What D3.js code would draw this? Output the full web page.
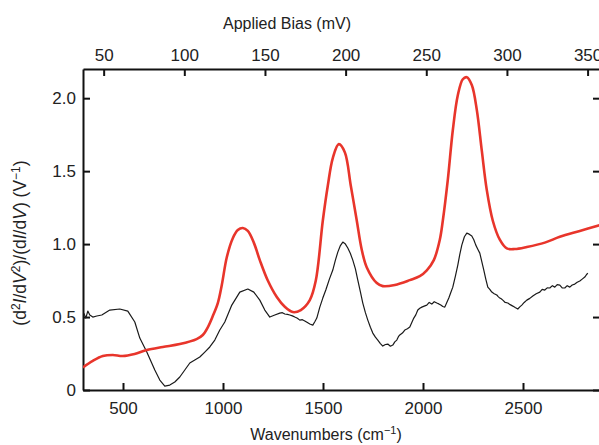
<!DOCTYPE html>
<html>
<head>
<meta charset="utf-8">
<script src="https://cdn.jsdelivr.net/npm/d3@7"></script>
<style>
  html, body { margin: 0; padding: 0; background: #fff; }
  svg { display: block; }
  text { font-family: "Liberation Sans", Arial, Helvetica, sans-serif; fill: #222; }
</style>
</head>
<body>
<svg id="chart" width="599" height="445"></svg>
<script>
// ---- data ----
const redWavenumber = [300,349,399,449,498,558,619,699,784,868,899,924,949,974,994,1019,1049,1074,1099,1124,1154,1184,1224,1269,1309,1349,1389,1434,1464,1499,1524,1549,1579,1609,1639,1669,1694,1719,1769,1799,1859,1934,1984,2019,2054,2084,2099,2124,2149,2174,2199,2219,2244,2269,2294,2319,2349,2384,2419,2459,2519,2609,2684,2784,2885];
const redValue = [0.155,0.20,0.233,0.24,0.233,0.247,0.274,0.295,0.315,0.349,0.377,0.43,0.507,0.596,0.72,0.91,1.04,1.096,1.11,1.09,1.01,0.89,0.75,0.637,0.57,0.534,0.548,0.616,0.75,1.16,1.40,1.59,1.685,1.63,1.40,1.16,0.96,0.84,0.733,0.712,0.72,0.753,0.78,0.82,0.89,1.03,1.16,1.44,1.78,2.02,2.13,2.144,2.09,1.92,1.64,1.37,1.16,1.03,0.97,0.966,0.98,1.01,1.05,1.09,1.13];

const blackWavenumber = [304,314,324,334,349,369,394,434,484,524,559,584,619,659,684,709,734,759,784,809,834,859,884,909,934,959,984,1009,1044,1084,1124,1154,1184,1209,1234,1259,1284,1297,1309,1322,1334,1347,1359,1372,1384,1397,1409,1422,1434,1449,1459,1469,1484,1499,1514,1532,1549,1562,1574,1587,1599,1612,1624,1637,1649,1662,1674,1687,1699,1712,1724,1737,1749,1762,1774,1787,1799,1812,1824,1837,1849,1859,1869,1877,1884,1897,1909,1922,1934,1944,1954,1964,1974,1984,1994,2006,2019,2031,2044,2056,2069,2079,2089,2099,2109,2119,2129,2139,2149,2162,2174,2184,2194,2207,2219,2231,2244,2254,2264,2274,2284,2294,2304,2314,2324,2334,2344,2356,2369,2376,2384,2391,2399,2411,2424,2436,2449,2461,2474,2484,2494,2506,2519,2534,2549,2566,2584,2596,2609,2621,2634,2647,2659,2671,2684,2696,2709,2721,2734,2746,2759,2771,2784,2796,2809,2817,2824];
const blackValue = [0.527,0.493,0.541,0.514,0.500,0.507,0.514,0.548,0.555,0.541,0.466,0.356,0.260,0.137,0.068,0.027,0.034,0.055,0.089,0.137,0.185,0.205,0.226,0.260,0.295,0.342,0.411,0.466,0.582,0.671,0.692,0.671,0.616,0.548,0.500,0.514,0.527,0.530,0.521,0.518,0.514,0.508,0.500,0.492,0.479,0.482,0.473,0.462,0.452,0.445,0.468,0.493,0.568,0.630,0.685,0.760,0.822,0.890,0.945,0.990,1.014,1.000,0.973,0.935,0.890,0.830,0.753,0.672,0.596,0.530,0.479,0.430,0.390,0.362,0.342,0.318,0.301,0.312,0.315,0.300,0.308,0.330,0.342,0.365,0.377,0.390,0.411,0.420,0.432,0.462,0.493,0.515,0.548,0.560,0.568,0.575,0.582,0.600,0.589,0.605,0.596,0.590,0.582,0.572,0.568,0.600,0.630,0.668,0.705,0.780,0.856,0.930,0.993,1.050,1.075,1.068,1.055,1.030,0.993,0.965,0.938,0.880,0.822,0.760,0.705,0.690,0.671,0.660,0.651,0.640,0.630,0.625,0.616,0.600,0.596,0.585,0.575,0.565,0.555,0.570,0.582,0.600,0.616,0.628,0.644,0.660,0.671,0.690,0.685,0.700,0.699,0.715,0.705,0.722,0.719,0.700,0.699,0.715,0.705,0.720,0.726,0.738,0.747,0.760,0.774,0.790,0.801];

const xTicks = [500,1000,1500,2000,2500];
const topTicks = [50,100,150,200,250,300,350];
const yTicks = [0,0.5,1.0,1.5,2.0];
const yTickLabels = ["0","0.5","1.0","1.5","2.0"];
const cmPerMeV = 8.0655;

// ---- layout ----
const L = 83, R = 600, T = 69, B = 390;
const svg = d3.select("#chart");

const x = d3.scaleLinear().domain([300, 2885]).range([L, R]);
const xTop = d3.scaleLinear().domain([300 / cmPerMeV, 2885 / cmPerMeV]).range([L, R]);
const y = d3.scaleLinear().domain([0, 2.2]).range([B, T]);

const fs = "16px";
const tfs = "17px";
const gB = svg.append("g").attr("transform", `translate(0,${B})`)
  .call(d3.axisBottom(x).tickValues(xTicks).tickFormat(d3.format("d")).tickSizeInner(-7).tickSizeOuter(0).tickPadding(12));
const gT = svg.append("g").attr("transform", `translate(0,${T})`)
  .call(d3.axisTop(xTop).tickValues(topTicks).tickFormat(d3.format("d")).tickSizeInner(-7).tickSizeOuter(0).tickPadding(8));
const gL = svg.append("g").attr("transform", `translate(${L},0)`)
  .call(d3.axisLeft(y).tickValues(yTicks).tickFormat((d,i) => yTickLabels[i]).tickSizeInner(-7).tickSizeOuter(0).tickPadding(7));
const gR = svg.append("g").attr("transform", `translate(${R},0)`)
  .call(d3.axisRight(y).tickValues(yTicks).tickFormat("").tickSizeInner(-7).tickSizeOuter(0));

[gB, gT, gL, gR].forEach(g => {
  g.select(".domain").attr("stroke", "#111").attr("stroke-width", 2);
  g.selectAll(".tick line").attr("stroke", "#111").attr("stroke-width", 2);
  g.selectAll(".tick text").style("font-size", tfs).attr("fill", "#222")
    .style("font-family", "'Liberation Sans', Arial, sans-serif");
});

// lines
svg.append("clipPath").attr("id", "plotclip")
  .append("rect").attr("x", L).attr("y", T - 5).attr("width", R - L).attr("height", B - T + 5);

const blackData = blackWavenumber.map((w, i) => [w, blackValue[i]]);
const redData = redWavenumber.map((w, i) => [w, redValue[i]]);

svg.append("path")
  .datum(blackData)
  .attr("clip-path", "url(#plotclip)")
  .attr("fill", "none")
  .attr("stroke", "#1a1a1a")
  .attr("stroke-width", 1.2)
  .attr("stroke-linejoin", "round")
  .attr("d", d3.line().x(d => x(d[0])).y(d => y(d[1])).curve(d3.curveLinear));

svg.append("path")
  .datum(redData)
  .attr("clip-path", "url(#plotclip)")
  .attr("fill", "none")
  .attr("stroke", "#e8352b")
  .attr("stroke-width", 2.6)
  .attr("stroke-linejoin", "round")
  .attr("d", d3.line().x(d => x(d[0])).y(d => y(d[1])).curve(d3.curveCatmullRom.alpha(0.5)));

// titles
svg.append("text").attr("x", 287).attr("y", 29).attr("text-anchor", "middle")
  .style("font-size", fs).text("Applied Bias (mV)");

const bt = svg.append("text").attr("x", 326).attr("y", 440).attr("text-anchor", "middle")
  .style("font-size", fs);
bt.append("tspan").text("Wavenumbers (cm");
bt.append("tspan").attr("dy", -6).style("font-size", "11px").text("\u22121");
bt.append("tspan").attr("dy", 6).text(")");

const yl = svg.append("text").attr("transform", "translate(26,243) rotate(-90)")
  .attr("text-anchor", "middle").style("font-size", "17.5px");
yl.append("tspan").text("(d");
yl.append("tspan").attr("dy", -6).style("font-size", "12px").text("2");
yl.append("tspan").attr("dy", 6).style("font-style", "italic").text("I");
yl.append("tspan").text("/d");
yl.append("tspan").style("font-style", "italic").text("V");
yl.append("tspan").attr("dy", -6).style("font-size", "12px").text("2");
yl.append("tspan").attr("dy", 6).text(")/(d");
yl.append("tspan").style("font-style", "italic").text("I");
yl.append("tspan").text("/d");
yl.append("tspan").style("font-style", "italic").text("V");
yl.append("tspan").text(") (V");
yl.append("tspan").attr("dy", -6).style("font-size", "12px").text("\u22121");
yl.append("tspan").attr("dy", 6).text(")");
</script>
</body>
</html>
